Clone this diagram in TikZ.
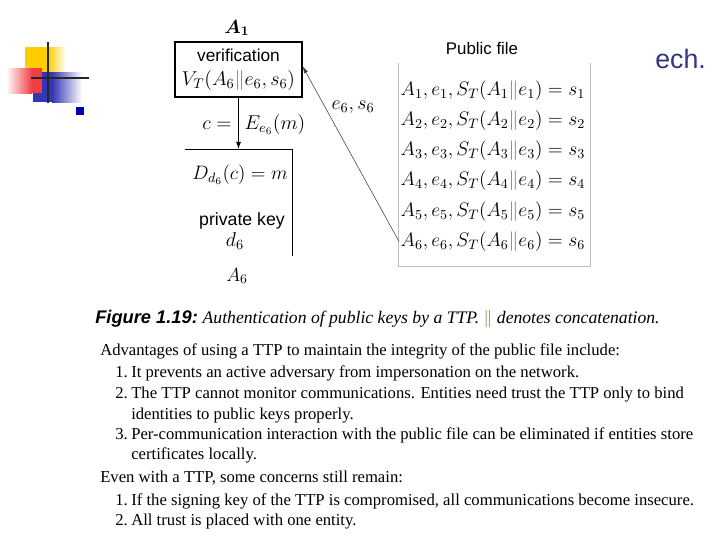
\RequirePackage{fix-cm}
\documentclass[tikz,border=0pt]{standalone}
\usepackage{fontspec}
\setmainfont{Liberation Serif}
\setsansfont{Liberation Sans}
\usepackage{amsmath}
\usetikzlibrary{arrows.meta,positioning}
\definecolor{slTitle}{HTML}{33337F}
\definecolor{slYellow}{HTML}{FFCC00}
\definecolor{slRed}{HTML}{EE1C24}
\definecolor{slBlue}{HTML}{3535B5}
\definecolor{slNavy}{HTML}{0000B0}
\definecolor{pfGray}{HTML}{BDBDBD}
\definecolor{catBrown}{HTML}{9A6A2E}
\newcommand{\catbar}{\mathord{\textcolor{catBrown}{\|}}}
\tikzset{
  mth/.style={inner sep=1pt, font=\fontsize{14.2}{17}\selectfont},
  ent/.style={inner sep=1pt, font=\fontsize{13.5}{16}\selectfont},
  sns/.style={inner sep=1pt, font=\fontsize{12}{14}\selectfont\sffamily},
  vbox/.style={draw, thick, minimum width=3.175cm, minimum height=1.375cm, inner sep=0pt, align=center, font=\fontsize{14.2}{17}\selectfont},
  arr/.style={-{Latex[length=5pt,width=3.5pt]}, semithick},
  thinarr/.style={-{Latex[length=5pt,width=3pt]}, line width=0.4pt, black!75},
  pline/.style={draw=pfGray, line width=0.6pt},
  body/.style={anchor=base west, inner sep=0pt, font=\fontsize{11.85}{14}\selectfont},
  logoline/.style={line width=1.4pt, black!85},
}
\begin{document}
\begin{tikzpicture}[x=0.025cm, y=-0.025cm]
\useasboundingbox (0,0) rectangle (720,540);
% slide logo
\fill[slYellow] (25,47) rectangle (48,73);
\shade[left color=slYellow, right color=white] (48,47) rectangle (66,73);
\fill[slBlue] (33,72) rectangle (52,102);
\shade[left color=slBlue, right color=white] (52,72) rectangle (82,102);
\shade[left color=white, right color=slRed!85] (6,68) rectangle (32,93);
\fill[slRed!85] (32,68) rectangle (42,93);
\draw[logoline] (48,42) -- (48,103);
\draw[logoline] (31,78) -- (89,78);
\fill[slNavy] (76,107) rectangle (84,115);
\node[anchor=base west, inner sep=0pt, text=slTitle, font=\fontsize{19}{22}\selectfont\sffamily] (ttl) at (655,68) {ech.};

% TTP verification and A6
\node[ent] (a1) at (237,28) {$\boldsymbol{A_1}$};
\node[vbox] (ver) at (238.5,69.5) {{\fontsize{12.3}{14}\selectfont\sffamily verification}\\ $V_T(A_6\catbar e_6, s_6)$};
\coordinate (a6nw) at (185,149);
\coordinate (a6ne) at (292,149);
\coordinate (a6se) at (292,256);
\draw[semithick] (a6nw) -- (a6ne) -- (a6se);
\draw[arr] (ver.south) -- (ver.south |- a6nw);
\node[mth] (cl) at (217,125) {$c =$};
\node[mth] (el) at (275,125) {$E_{e_6}(m)$};
\node[mth, font=\fontsize{13.8}{16}\selectfont] (dec) at (240,175) {$D_{d_6}(c) = m$};
\node[sns, font=\fontsize{12.6}{15}\selectfont\sffamily] (pk) at (242,221) {private key};
\node[mth] (d6) at (235,241) {$d_6$};
\node[ent] (a6) at (237,276) {$A_6$};

% public file
\node[sns] (pft) at (482,48) {Public file};
\foreach \i in {1,...,6}
  \node[mth, font=\fontsize{13.9}{17}\selectfont, anchor=west] (r\i) at (399,{90.5+30.2*(\i-1)}) {$A_\i, e_\i, S_T(A_\i\catbar e_\i) = s_\i$};
\draw[pline] (398,63) -- (398,266) -- (590,266) -- (590,63);
\draw[thinarr] (r6.west) -- ([yshift=0.08cm]ver.east);
\node[mth] (es) at (353,107) {$e_6, s_6$};

% caption and notes
\node[anchor=base west, inner sep=0pt, font=\fontsize{13}{15}\selectfont\sffamily\bfseries\itshape] (fig) at (95,323) {Figure 1.19:};
\node[anchor=base west, inner sep=0pt, font=\fontsize{12.55}{15}\selectfont\itshape] (cap) at ([xshift=3pt]fig.base east) {Authentication of public keys by a TTP. {\color{catBrown}$\|$} denotes concatenation.};
\node[body] (l1) at (100,355) {Advantages of using a TTP to maintain the integrity of the public file include:};
\node[body] (n1) at (115,377) {1.};
\node[body] (t1) at (131,377) {It prevents an active adversary from impersonation on the network.};
\node[body] (n2) at (115,398) {2.};
\node[body] (t2) at (131,398) {The TTP cannot monitor communications. Entities need trust the TTP only to bind};
\node[body] (t2b) at (131,419) {identities to public keys properly.};
\node[body] (n3) at (115,439) {3.};
\node[body] (t3) at (131,439) {Per-communication interaction with the public file can be eliminated if entities store};
\node[body] (t3b) at (131,459) {certificates locally.};
\node[body] (l2) at (100,482) {Even with a TTP, some concerns still remain:};
\node[body] (m1) at (115,505) {1.};
\node[body] (s1) at (131,505) {If the signing key of the TTP is compromised, all communications become insecure.};
\node[body] (m2) at (115,525) {2.};
\node[body] (s2) at (131,525) {All trust is placed with one entity.};
\end{tikzpicture}
\end{document}
